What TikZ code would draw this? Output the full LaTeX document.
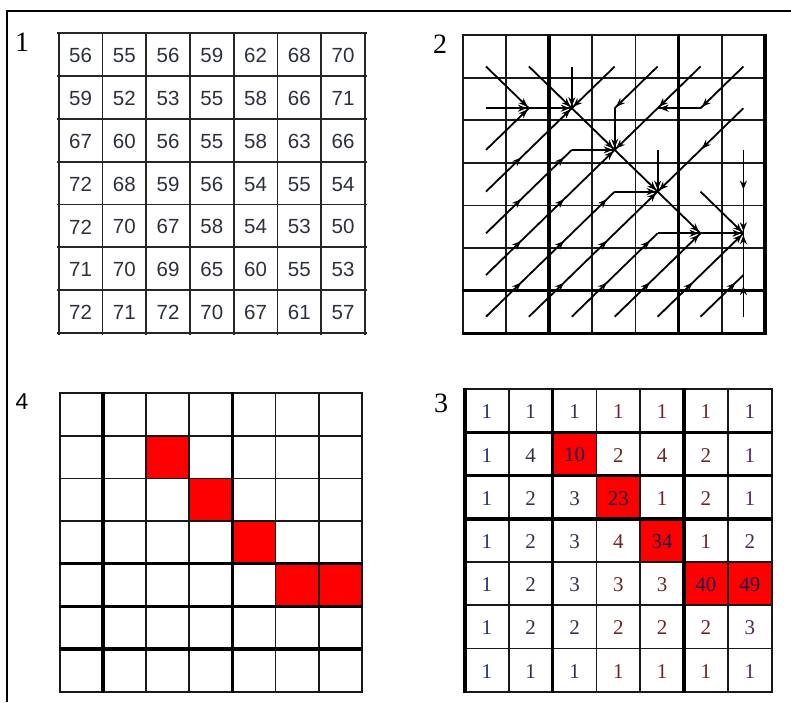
\documentclass[tikz,border=0pt]{standalone}
\usepackage{fontspec}
\setmainfont{Liberation Serif}
\newfontfamily\numsans{Liberation Sans}
\newfontfamily\numserif{Liberation Serif}
\usetikzlibrary{arrows.meta,decorations.markings}
\definecolor{onetext}{HTML}{2C303C}
\definecolor{p3c0}{HTML}{24337A}
\definecolor{p3c1}{HTML}{34304C}
\definecolor{p3c2}{HTML}{34304C}
\definecolor{p3c3}{HTML}{6E2424}
\definecolor{p3c4}{HTML}{6E2424}
\definecolor{p3c5}{HTML}{6E2424}
\definecolor{p3c6}{HTML}{52285E}
\definecolor{p3red}{HTML}{1A1A4E}
\definecolor{cellred}{HTML}{FF0000}
\begin{document}
\begin{tikzpicture}[x=1pt,y=-1pt,
  gridone/.style={line width=1.8pt, draw=black!85},
  thingrid/.style={line width=1.8pt, draw=black!90},
  thickgrid/.style={line width=3.3pt, draw=black},
  flowbase/.style={line width=1.8pt, draw=black, postaction={decorate}},
  flow/.style={flowbase, decoration={markings, mark=at position -2pt with {\arrow{Stealth[length=9pt,width=7pt]}}}},
  flowmid/.style={flowbase, decoration={markings, mark=at position -11pt with {\arrow{Stealth[length=9pt,width=7pt]}}}},
  numone/.style={font=\numsans\fontsize{20.5}{22}\selectfont, text=onetext, inner sep=0pt},
  numthree/.style={font=\numserif\fontsize{21}{22}\selectfont, inner sep=0pt},
  labserif/.style={font=\numserif\fontsize{28}{30}\selectfont, inner sep=0pt},
  labsans/.style={font=\numsans\fontsize{23}{25}\selectfont, inner sep=0pt}
]
\useasboundingbox (0,0) rectangle (791,702);

% outer frame
\draw[line width=2.3pt, line join=miter] (791,11) -- (7,11) -- (7,702);

% labels
\node[labserif] (lab1) at (22,42) {1};
\node[labserif] (lab2) at (440,44) {2};
\node[labserif] (lab3) at (441,403) {3};
\node[labsans] (lab4) at (22,402) {4};

% ---------------- panel 1 ----------------
\foreach \i in {0,...,7}{
  \draw[gridone] ({58.7+43.76*\i},32) -- ({58.7+43.76*\i},334.5);
  \draw[gridone] (57.2,{33.3+42.8*\i}) -- (366.5,{33.3+42.8*\i});
}
\foreach \rowvals [count=\ri from 0] in {
  {56,55,56,59,62,68,70},
  {59,52,53,55,58,66,71},
  {67,60,56,55,58,63,66},
  {72,68,59,56,54,55,54},
  {72,70,67,58,54,53,50},
  {71,70,69,65,60,55,53},
  {72,71,72,70,67,61,57}}{
  \foreach \v [count=\ci from 0] in \rowvals {
    \node[numone] (ta-\ci-\ri) at ({58.7+43.76*(\ci+0.5)},{33.3+42.8*(\ri+0.5)+1}) {\v};
  }
}

% ---------------- panel 2 ----------------
\foreach \i in {0,...,7}{
  \draw[thingrid] ({462.7+43.19*\i},34) -- ({462.7+43.19*\i},334.5);
  \draw[thingrid] (461.5,{35+42.61*\i}) -- (766.5,{35+42.61*\i});
}
\foreach \i in {2,5,7}{
  \draw[thickgrid] ({462.7+43.19*\i},34) -- ({462.7+43.19*\i},334.5);
}
\foreach \i in {6,7}{
  \draw[thickgrid] (461.5,{35+42.61*\i}) -- (766.5,{35+42.61*\i});
}
\foreach \ci in {0,...,6}{
  \foreach \ri in {0,...,6}{
    \coordinate (p-\ci-\ri) at ({486+42.9*\ci},{66.5+41.7*\ri});
  }
}
\foreach \a/\b in {0-0/1-1, 1-0/2-1, 2-0/2-1, 3-0/2-1, 4-0/3-1, 5-0/4-1, 6-0/5-1,
                   0-1/1-1, 1-1/2-1, 2-1/3-2, 3-1/3-2, 4-1/3-2, 5-1/4-1, 6-1/5-2,
                   0-2/1-1, 1-2/2-1, 2-2/3-2, 3-2/4-3, 4-2/4-3, 5-2/4-3, 6-2/6-3,
                   2-3/3-2, 3-3/4-3, 4-3/5-4, 5-3/6-4, 6-3/6-4,
                   3-4/4-3, 4-4/5-4, 5-4/6-4,
                   4-5/5-4, 5-5/6-4, 6-5/6-4}{
  \draw[flow] (p-\a) -- (p-\b);
}
\foreach \a/\b in {0-3/1-2, 1-3/2-2,
                   0-4/1-3, 1-4/2-3, 2-4/3-3,
                   0-5/1-4, 1-5/2-4, 2-5/3-4, 3-5/4-4,
                   0-6/1-5, 1-6/2-5, 2-6/3-5, 3-6/4-5, 4-6/5-5, 5-6/6-5, 6-6/6-5}{
  \draw[flowmid] (p-\a) -- (p-\b);
}

% ---------------- panel 3 ----------------
\foreach \c/\r in {2/1,3/2,4/3,5/4,6/4}{
  \fill[cellred] ({465+43.81*\c},{389.3+43.2*\r}) rectangle ++(43.81,43.2);
}
\foreach \i in {0,...,7}{
  \draw[thingrid] ({465+43.81*\i},388) -- ({465+43.81*\i},693);
  \draw[thingrid] (463.8,{389.3+43.2*\i}) -- (773,{389.3+43.2*\i});
}
\foreach \i in {0,2,5}{
  \draw[thickgrid] ({465+43.81*\i},388) -- ({465+43.81*\i},693);
}
\foreach \i in {1,2,3}{
  \draw[thickgrid] (463.8,{389.3+43.2*\i}) -- (773,{389.3+43.2*\i});
}
\foreach \rowvals [count=\ri from 0] in {
  {1,1,1,1,1,1,1},
  {1,4,10,2,4,2,1},
  {1,2,3,23,1,2,1},
  {1,2,3,4,34,1,2},
  {1,2,3,3,3,40,49},
  {1,2,2,2,2,2,3},
  {1,1,1,1,1,1,1}}{
  \foreach \v [count=\ci from 0] in \rowvals {
    \ifnum\v>9 \def\tc{p3red}\else\edef\tc{p3c\ci}\fi
    \node[numthree, text=\tc] (tc-\ci-\ri) at ({465+43.81*(\ci+0.5)},{389.3+43.2*(\ri+0.5)+1}) {\v};
  }
}

% ---------------- panel 4 ----------------
\foreach \c/\r in {2/1,3/2,4/3,5/4,6/4}{
  \fill[cellred] ({60+43.1*\c},{393.3+42.63*\r}) rectangle ++(43.1,42.63);
}
\foreach \i in {0,...,7}{
  \draw[thingrid] ({60+43.1*\i},392) -- ({60+43.1*\i},693);
  \draw[thingrid] (58.8,{393.3+42.63*\i}) -- (363,{393.3+42.63*\i});
}
\foreach \i in {1,4}{
  \draw[thickgrid] ({60+43.1*\i},392) -- ({60+43.1*\i},693);
}
\foreach \i in {4,5,6}{
  \draw[thickgrid] (58.8,{393.3+42.63*\i}) -- (363,{393.3+42.63*\i});
}
\end{tikzpicture}
\end{document}
